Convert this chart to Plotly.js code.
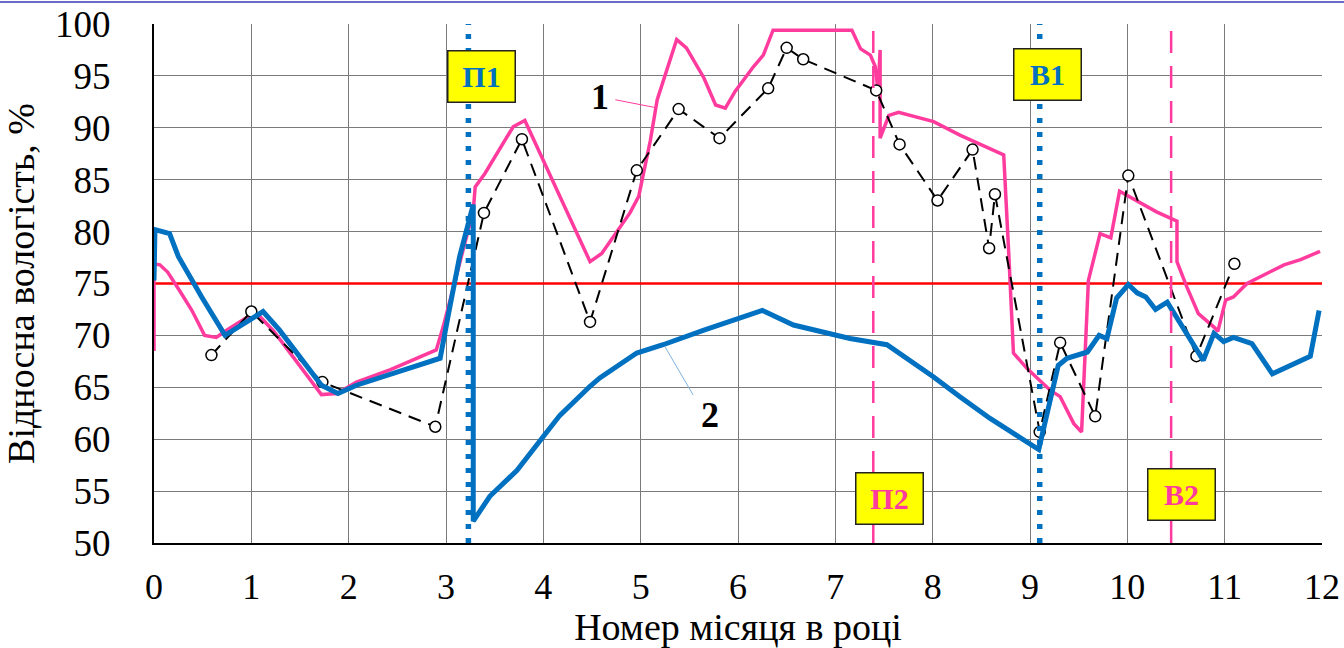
<!DOCTYPE html>
<html>
<head>
<meta charset="utf-8">
<script src="https://cdn.plot.ly/plotly-3.0.1.min.js"></script>
<style>html,body{margin:0;padding:0;background:#fff;}#chart{width:1344px;height:648px;}</style>
</head>
<body>
<div id="chart"></div>
<script>
// Curve 1 (pink)
const curve1X = [0, 0, 0.06, 0.14, 0.27, 0.39, 0.52, 0.64, 0.73, 1.0, 1.08, 1.23, 1.72, 1.88, 2.08, 2.43, 2.9, 2.97, 3.28, 3.30, 3.4, 3.69, 3.81, 3.97, 4.48, 4.6, 4.89, 4.98, 5.1, 5.17, 5.37, 5.47, 5.65, 5.77, 5.87, 5.97, 6.16, 6.26, 6.36, 7.17, 7.26, 7.36, 7.41, 7.44, 7.46, 7.46, 7.55, 7.65, 8.01, 8.28, 8.52, 8.73, 8.78, 8.83, 8.97, 9.21, 9.31, 9.45, 9.53, 9.6, 9.72, 9.83, 9.92, 10.3, 10.51, 10.51, 10.61, 10.73, 10.89, 10.93, 11.01, 11.09, 11.23, 11.4, 11.61, 11.78, 11.98];
const curve1Y = [68.5, 76.9, 76.8, 76.1, 74.2, 72.4, 70.0, 69.8, 70.4, 72.0, 71.9, 70.4, 64.3, 64.4, 65.5, 66.7, 68.6, 70.8, 82.0, 84.3, 85.6, 90.1, 90.7, 87.5, 77.1, 77.9, 81.8, 83.4, 88.8, 92.7, 98.5, 97.7, 94.8, 92.2, 91.9, 93.5, 95.9, 97.0, 99.4, 99.4, 97.6, 97.0, 95.9, 93.5, 97.5, 89.0, 91.2, 91.5, 90.6, 89.3, 88.3, 87.4, 78.2, 68.3, 66.8, 64.7, 64.1, 61.5, 60.7, 75.3, 79.8, 79.4, 83.9, 81.9, 81.0, 77.1, 74.7, 72.1, 70.8, 70.4, 73.4, 73.7, 75.0, 75.8, 76.8, 77.3, 78.1];

// Curve 2 (blue)
const curve2X = [0.0, 0.01, 0.16, 0.25, 0.49, 0.73, 1.12, 1.29, 1.72, 1.89, 2.08, 2.32, 2.94, 3.02, 3.14, 3.28, 3.28, 3.45, 3.73, 3.97, 4.17, 4.48, 4.58, 4.96, 5.23, 5.65, 5.99, 6.25, 6.57, 6.78, 7.15, 7.53, 7.84, 8.01, 8.28, 8.59, 9.09, 9.29, 9.38, 9.59, 9.71, 9.79, 9.89, 10.01, 10.1, 10.19, 10.29, 10.41, 10.78, 10.89, 10.99, 11.09, 11.28, 11.49, 11.88, 11.97];
const curve2Y = [75.3, 80.2, 79.8, 77.6, 73.7, 70.0, 72.3, 70.5, 65.2, 64.4, 65.2, 65.9, 67.8, 71.8, 77.6, 82.6, 52.1, 54.5, 57.0, 59.9, 62.3, 65.1, 65.9, 68.3, 69.1, 70.5, 71.6, 72.4, 71.0, 70.5, 69.7, 69.1, 67.1, 66.0, 64.1, 62.0, 59.0, 67.1, 67.8, 68.4, 70.0, 69.7, 73.6, 74.9, 74.1, 73.7, 72.5, 73.2, 67.6, 70.2, 69.4, 69.8, 69.2, 66.3, 68.0, 72.4];

// Measured points (black dashed with open circles)
const measX = [0.59, 1.0, 1.73, 2.89, 3.39, 3.78, 4.48, 4.96, 5.39, 5.81, 6.31, 6.5, 6.67, 7.42, 7.66, 8.05, 8.41, 8.58, 8.64, 9.1, 9.31, 9.67, 10.01, 10.71, 11.1];
const measY = [68.1, 72.3, 65.5, 61.2, 81.8, 88.9, 71.3, 85.9, 91.8, 89.0, 93.8, 97.7, 96.6, 93.6, 88.4, 83.0, 87.9, 78.4, 83.6, 60.7, 69.3, 62.2, 85.4, 68.0, 76.9];

// Threshold
const thresholdValue = 75;
const xRange = [0, 12];

// Events
const eventNames = ["П1", "П2", "В1", "В2"];
const eventX = [3.23, 7.39, 9.1, 10.45];
const eventLabelX = [3.36, 7.56, 9.18, 10.56];
const eventLabelY = [94.95, 54.3, 95.1, 54.7];

const xTicks = [0,1,2,3,4,5,6,7,8,9,10,11,12];
const yTicks = [50,55,60,65,70,75,80,85,90,95,100];

const PINK = '#FF3C9E';
const BLUE = '#0070C0';
const FONT = 'Liberation Serif';

const traces = [
  { x: xRange, y: [thresholdValue, thresholdValue], mode: 'lines', line: {color: '#FF0000', width: 2.5}, hoverinfo: 'skip' },
  { x: curve1X, y: curve1Y, mode: 'lines', line: {color: PINK, width: 3.5}, name: '1' },
  { x: measX, y: measY, mode: 'lines+markers', line: {color: '#000', width: 2, dash: '13px,8px'},
    marker: {symbol: 'circle', size: 11, color: '#fff', line: {color: '#000', width: 1.5}}, name: 'meas' },
  { x: curve2X, y: curve2Y, mode: 'lines', line: {color: BLUE, width: 5}, name: '2' }
];

const shapes = [];
const annotations = [];
eventNames.forEach((n, i) => {
  const blueEvent = (n === 'П1' || n === 'В1');
  const col = blueEvent ? BLUE : PINK;
  shapes.push({
    type: 'line', xref: 'x', yref: 'y', x0: eventX[i], x1: eventX[i], y0: 50, y1: 100,
    line: blueEvent ? {color: BLUE, width: 5.5, dash: '5px,9px'} : {color: PINK, width: 2.5, dash: '22px,13px'},
    layer: 'above'
  });
  annotations.push({
    x: eventLabelX[i], y: eventLabelY[i], xref: 'x', yref: 'y', text: '<b>' + n + '</b>', showarrow: false,
    font: {family: FONT, size: 30, color: col}, bgcolor: '#FFFF00', bordercolor: '#222', borderwidth: 1.5,
    width: 64, height: 48, align: 'center', valign: 'middle'
  });
});

// curve labels
annotations.push({x: 4.58, y: 93.0, xref: 'x', yref: 'y', text: '<b>1</b>', showarrow: false, font: {family: FONT, size: 36, color: '#000'}});
annotations.push({x: 5.71, y: 62.3, xref: 'x', yref: 'y', text: '<b>2</b>', showarrow: false, font: {family: FONT, size: 36, color: '#000'}});
shapes.push({type: 'line', xref: 'x', yref: 'y', x0: 4.74, y0: 92.7, x1: 5.15, y1: 91.95, line: {color: PINK, width: 1}});
shapes.push({type: 'line', xref: 'x', yref: 'y', x0: 5.25, y0: 68.9, x1: 5.54, y1: 64.25, line: {color: '#7FB2E0', width: 1}});
// slide border line at top
shapes.push({type: 'line', xref: 'paper', yref: 'paper', x0: -0.14, x1: 1.03, y0: 1.0424, y1: 1.0424, line: {color: '#6A6AC8', width: 2}});

const layout = {
  width: 1344, height: 648,
  margin: {l: 154, r: 22, t: 24, b: 105},
  paper_bgcolor: '#fff', plot_bgcolor: '#fff',
  showlegend: false,
  font: {family: FONT, color: '#000'},
  xaxis: {
    range: xRange, tickvals: xTicks, ticktext: xTicks.map(String),
    showgrid: true, gridcolor: '#7a7a7a', gridwidth: 1,
    showline: true, linecolor: '#000', linewidth: 2, mirror: false,
    zeroline: false, ticks: '', ticklabelstandoff: 11,
    tickfont: {family: FONT, size: 36, color: '#000'},
    title: {text: 'Номер місяця в році', font: {family: FONT, size: 38, color: '#000'}, standoff: 5}
  },
  yaxis: {
    range: [50, 100], tickvals: yTicks, ticktext: yTicks.map(String),
    showgrid: true, gridcolor: '#7a7a7a', gridwidth: 1,
    showline: true, linecolor: '#000', linewidth: 2, mirror: false,
    zeroline: false, ticks: '', ticklabelstandoff: 34,
    tickfont: {family: FONT, size: 37, color: '#000'},
    title: {text: 'Відносна вологість, %', font: {family: FONT, size: 38, color: '#000'}, standoff: 14}
  },
  shapes: shapes,
  annotations: annotations
};

Plotly.newPlot('chart', traces, layout, {staticPlot: true, displayModeBar: false});
</script>
</body>
</html>
